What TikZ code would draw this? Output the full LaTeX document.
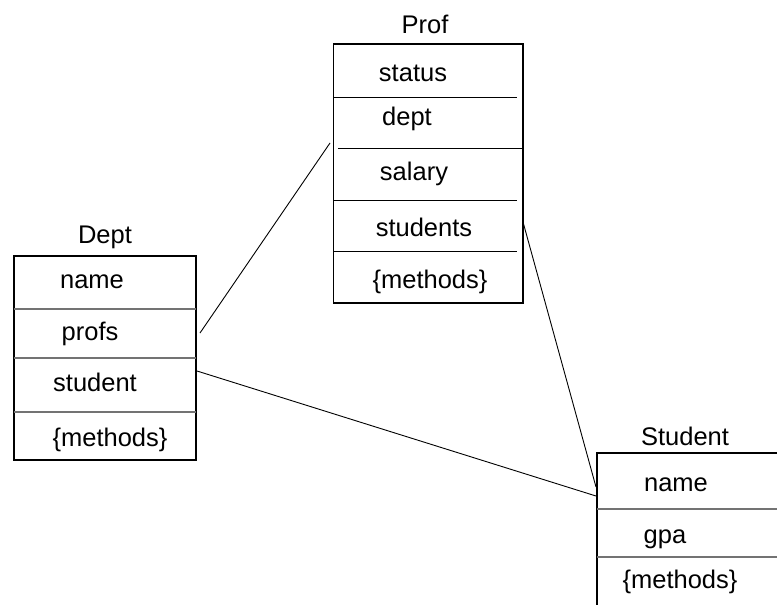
\documentclass[tikz,border=0pt]{standalone}
\usepackage{fontspec}
\setmainfont{Liberation Sans}
\begin{document}
\begin{tikzpicture}[x=1pt,y=-1pt,
  frame/.style={line width=1.2pt,black},
  rule/.style={line width=1pt,black},
  softrule/.style={line width=1.8pt,black!55},
  link/.style={line width=0.9pt,black},
  lbl/.style={font=\fontsize{25.5}{30}\selectfont,inner sep=0pt,anchor=base}]
\useasboundingbox (0,0) rectangle (777,605);

% Prof class
\draw[frame] (333.5,44) rectangle (523,303);
\draw[rule] (333.5,97) -- (517,97);
\draw[rule] (338,148) -- (522,148);
\draw[rule] (333.5,200) -- (517,200);
\draw[rule] (333.5,251) -- (517,251);
\node[lbl] (proft)  at (425,33)  {Prof};
\node[lbl] (pstat)  at (413,81)  {status};
\node[lbl] (pdept)  at (407,125) {dept};
\node[lbl] (psal)   at (414,180) {salary};
\node[lbl] (pstud)  at (424,236) {students};
\node[lbl] (pmeth)  at (430,288) {\{methods\}};

% Dept class
\draw[frame] (14,256) rectangle (196,460);
\draw[softrule] (14,309) -- (196,309);
\draw[softrule] (14,358) -- (196,358);
\draw[softrule] (14,412) -- (196,412);
\node[lbl] (deptt)  at (105,243) {Dept};
\node[lbl] (dname)  at (92,288)  {name};
\node[lbl] (dprof)  at (90,340)  {profs};
\node[lbl] (dstud)  at (95,391)  {student};
\node[lbl] (dmeth)  at (110,446) {\{methods\}};

% Student class (runs off the right edge)
\draw[frame] (777,453) -- (597,453) -- (597,605);
\draw[softrule] (597,509) -- (777,509);
\draw[softrule] (597,557) -- (777,557);
\node[lbl] (studt)  at (685,445) {Student};
\node[lbl] (sname)  at (676,491) {name};
\node[lbl] (sgpa)   at (665,543) {gpa};
\node[lbl] (smeth)  at (680,588) {\{methods\}};

% connector ends
\coordinate (dA) at (200,333);
\coordinate (pA) at (330,143);
\coordinate (dB) at (197,371);
\coordinate (sB) at (596,496);
\coordinate (pC) at (523,222);
\coordinate (sC) at (596,487);

\draw[link] (dA) -- (pA);
\draw[link] (dB) -- (sB);
\draw[link] (pC) -- (sC);
\end{tikzpicture}
\end{document}
